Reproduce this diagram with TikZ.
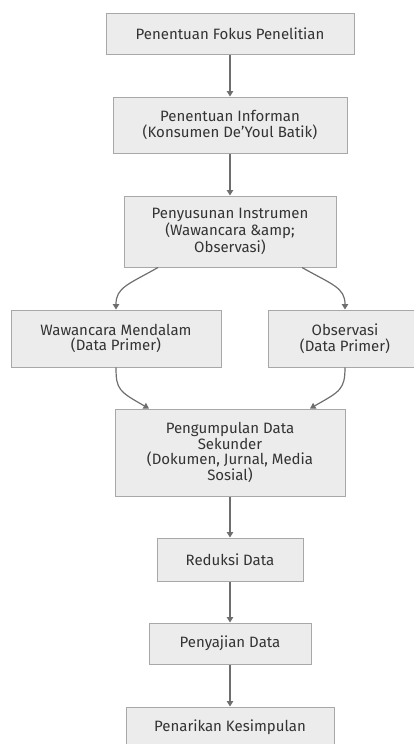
\documentclass[tikz,border=0pt]{standalone}
\usepackage{fontspec}
\setmainfont{Fira Sans}
\usetikzlibrary{arrows.meta}
\definecolor{boxfill}{HTML}{ECECEC}
\definecolor{boxline}{HTML}{A8A8A8}
\definecolor{txt}{HTML}{333333}
\definecolor{arr}{HTML}{6E6E6E}
\begin{document}
\begin{tikzpicture}[x=1pt,y=-1pt,
  box/.style={draw=boxline,fill=boxfill,line width=1pt,inner sep=0pt,align=center,
    text=txt,font=\fontsize{15}{15.5}\selectfont},
  link/.style={draw=arr,line width=1.2pt,-{Triangle[width=6.5pt,length=5.5pt]}}]
\useasboundingbox (0,0) rectangle (414,744);
\node[box,minimum width=248pt,minimum height=41pt] (b1) at (230,33.5) {Penentuan Fokus Penelitian};
\node[box,minimum width=234pt,minimum height=56pt] (b2) at (230,125) {Penentuan Informan\\(Konsumen De’Youl Batik)};
\node[box,minimum width=212pt,minimum height=71pt] (b3) at (230,231.5) {Penyusunan Instrumen\\(Wawancara \&amp;\\Observasi)};
\node[box,minimum width=210pt,minimum height=57pt] (wa) at (116,338.5) {Wawancara Mendalam\\(Data Primer)};
\node[box,minimum width=154pt,minimum height=57pt] (ob) at (345,338.5) {Observasi\\(Data Primer)};
\node[box,minimum width=230pt,minimum height=87pt] (b5) at (230,452.5) {Pengumpulan Data\\Sekunder\\(Dokumen, Jurnal, Media\\Sosial)};
\node[box,minimum width=146pt,minimum height=43pt] (b6) at (230,559.5) {Reduksi Data};
\node[box,minimum width=162pt,minimum height=41pt] (b7) at (230,643.5) {Penyajian Data};
\node[box,minimum width=208pt,minimum height=41pt] (b8) at (230,727.5) {Penarikan Kesimpulan};
\draw[link] (b1) -- (b2);
\draw[link] (b2) -- (b3);
\draw[link] ([xshift=-72pt]b3.south) .. controls +(-30,17) and +(0,-22) .. (wa.north);
\draw[link] ([xshift=72pt]b3.south) .. controls +(30,17) and +(0,-22) .. (ob.north);
\draw[link] (wa.south) .. controls +(0,22) and +(-30,-17) .. ([xshift=-81pt]b5.north);
\draw[link] (ob.south) .. controls +(0,22) and +(30,-17) .. ([xshift=80pt]b5.north);
\draw[link] (b5) -- (b6);
\draw[link] (b6) -- (b7);
\draw[link] (b7) -- (b8);
\end{tikzpicture}
\end{document}
